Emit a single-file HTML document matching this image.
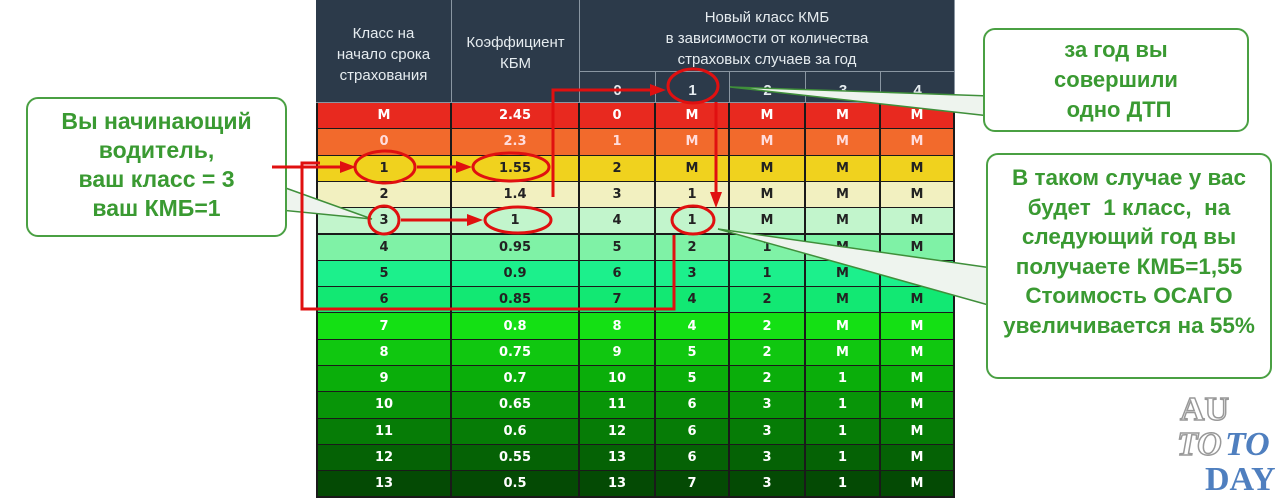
<!DOCTYPE html>
<html><head><meta charset="utf-8"><style>
body{margin:0;width:1280px;height:496px;background:#fff;position:relative;overflow:hidden;font-family:"Liberation Sans",sans-serif}
.c{position:absolute;display:flex;align-items:center;justify-content:center;box-sizing:border-box;border-right:2px solid #1a1a1a;border-bottom:2px solid #1a1a1a;font-family:"DejaVu Sans",sans-serif;font-weight:bold;font-size:13px}
.h{position:absolute;display:flex;align-items:center;justify-content:center;text-align:center;box-sizing:border-box;background:#2c3a4a;color:#e6ecf0;font-size:15px;line-height:21px;border-right:1px solid #8a96a2;border-bottom:1px solid #8a96a2}
.box{position:absolute;border:2px solid #4aa043;border-radius:12px;background:#fff;color:#3a9a32;font-weight:bold;font-size:23px;text-align:center;line-height:28px;box-sizing:border-box;white-space:nowrap}
</style></head><body>
<div id="tbl"></div>
<svg width="1280" height="496" style="position:absolute;left:0;top:0">
<g fill="#eef4ee" stroke="#3f8f3a" stroke-width="1.5">
<polygon points="280,186 372,219 280,210"/>
<polygon points="990,96 730,87 990,116"/>
<polygon points="992,268 718,229 992,306"/>
</g>
</svg>
<div class="box" style="left:26px;top:97px;width:261px;height:140px;padding-top:8px;line-height:29px">Вы начинающий<br>водитель,<br>ваш класс = 3<br>ваш КМБ=1</div>
<div class="box" style="left:983px;top:28px;width:266px;height:104px;padding-top:5px;line-height:30px;font-size:22px">за год вы<br>совершили<br>&nbsp;одно ДТП</div>
<div class="box" style="left:986px;top:153px;width:286px;height:226px;padding-top:8px;line-height:29.5px;font-size:22.5px">В таком случае у вас<br>будет &nbsp;1 класс, &nbsp;на<br>следующий год вы<br>получаете КМБ=1,55<br>Стоимость ОСАГО<br>увеличивается на 55%</div>
<svg width="1280" height="496" style="position:absolute;left:0;top:0">
<g fill="none" stroke="#e01010" stroke-width="3">
<ellipse cx="385" cy="167" rx="30" ry="16"/>
<ellipse cx="511" cy="167" rx="38" ry="14"/>
<ellipse cx="384" cy="220" rx="15" ry="14"/>
<ellipse cx="518" cy="220" rx="33" ry="13"/>
<ellipse cx="693" cy="86" rx="25" ry="17"/>
<ellipse cx="693" cy="220" rx="21" ry="14"/>
<polyline points="320,163 302,163 302,309 674,309 674,235"/>
<polyline points="553,197 553,90 650,90"/>
<line x1="716" y1="102" x2="716" y2="192"/>
<line x1="272" y1="167" x2="342" y2="167"/>
<line x1="417" y1="167" x2="458" y2="167"/>
<line x1="401" y1="220" x2="468" y2="220"/>
</g>
<g fill="#e01010">
<polygon points="666,90 650,84 650,96"/>
<polygon points="716,208 710,192 722,192"/>
<polygon points="356,167 340,161 340,173"/>
<polygon points="472,167 456,161 456,173"/>
<polygon points="483,220 467,214 467,226"/>
</g>
<g font-family="Liberation Serif,serif" font-weight="bold" font-size="34">
<text x="1180" y="420" fill="#fff" stroke="#999" stroke-width="1.5">AU</text>
<text x="1177" y="455" fill="#fff" stroke="#999" stroke-width="1.5" font-style="italic">TO</text>
<text x="1225" y="455" fill="#4f7fbf" font-style="italic">TO</text>
<text x="1205" y="490" fill="#4f7fbf">DAY</text>
</g>
</svg>
<script>
const classes=["M","0","1","2","3","4","5","6","7","8","9","10","11","12","13"];
const coef=["2.45","2.3","1.55","1.4","1","0.95","0.9","0.85","0.8","0.75","0.7","0.65","0.6","0.55","0.5"];
const new0=["0","1","2","3","4","5","6","7","8","9","10","11","12","13","13"];
const new1=["M","M","M","1","1","2","3","4","4","5","5","6","6","6","7"];
const new2=["M","M","M","M","M","1","1","2","2","2","2","3","3","3","3"];
const new3=["M","M","M","M","M","M","M","M","M","M","1","1","1","1","1"];
const new4=["M","M","M","M","M","M","M","M","M","M","M","M","M","M","M"];
const bg=["#e8291f","#f26a2c","#f0d21e","#f2f0c0","#c2f5cc","#7ff2a6","#1cf08c","#12e873","#14e014","#10c710","#0aae0a","#089508","#067c06","#056205","#044a04"];
const fg=["#fff","#fdd","#222","#222","#222","#222","#222","#222","#fff","#fff","#fff","#fff","#fff","#fff","#fff"];
const cx=[316,452,580,656,730,806,881,955];
const top0=103,rh=26.3;
const tbl=document.getElementById('tbl');
function mk(cls,x,y,w,h,txt){const d=document.createElement('div');d.className=cls;d.style.left=x+'px';d.style.top=y+'px';d.style.width=w+'px';d.style.height=h+'px';d.innerHTML=txt;tbl.appendChild(d);return d;}
let h;
h=mk('h',cx[0],0,cx[1]-cx[0],top0,'Класс на<br>начало срока<br>страхования');
h.style.paddingTop='6px';


h=mk('h',cx[1],0,cx[2]-cx[1],top0,'Коэффициент<br>КБМ');
h.style.paddingTop='4px';


h=mk('h',cx[2],0,cx[7]-cx[2],72,'Новый класс КМБ<br>в зависимости от количества<br>страховых случаев за год');
h.style.paddingTop='6px';


for(let i=0;i<5;i++){h=mk('h',cx[2+i],72,cx[3+i]-cx[2+i],top0-72,String(i));h.style.fontWeight='bold';h.style.paddingTop='6px';

}
const cols=[classes,coef,new0,new1,new2,new3,new4];
for(let r=0;r<classes.length;r++){for(let c=0;c<7;c++){
const d=mk('c',cx[c],top0+r*rh,cx[c+1]-cx[c],rh+1,cols[c][r]);
d.style.background=bg[r];d.style.color=fg[r];if(c==0)d.style.borderLeft='2px solid #1a1a1a';

}}
</script>
</body></html>
